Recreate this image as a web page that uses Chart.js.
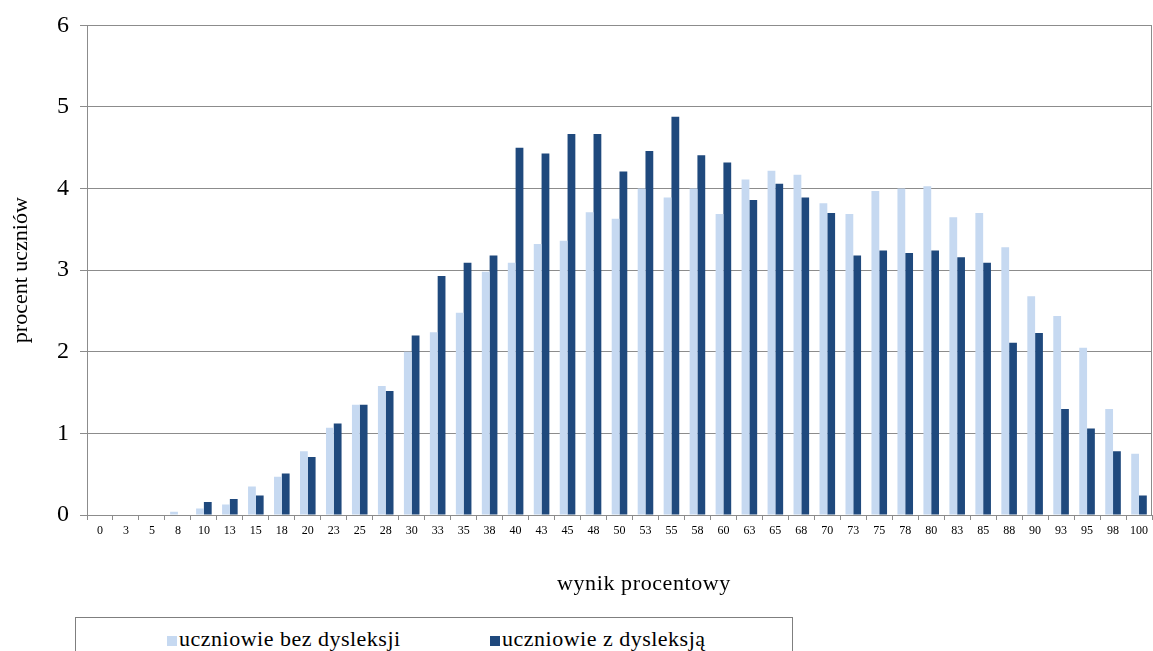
<!DOCTYPE html>
<html>
<head>
<meta charset="utf-8">
<script src="https://cdn.jsdelivr.net/npm/chart.js@4/dist/chart.umd.min.js"></script>
<style>
    body { margin: 0; background: #fff; }
    #wrap {
        position: relative; width: 1153px; height: 651px; overflow: hidden;
        font-family: "Times New Roman", "Liberation Serif", "DejaVu Serif", serif; color: #000;
    }
    #chart_box { position: absolute; left: 0; top: 0; width: 1153px; height: 600px; }
    #x_title {
        position: absolute; left: 557px; top: 570px; font-size: 22px;
        letter-spacing: 0.6px; white-space: nowrap;
    }
    #legend_box {
        position: absolute; left: 75px; top: 617px; width: 716px; height: 60px;
        border: 1px solid #7f7f7f; font-size: 22px; letter-spacing: 0.5px;
    }
    .item { position: absolute; top: 8px; white-space: nowrap; }
    .swatch { display: inline-block; width: 10px; height: 10px; margin-right: 2px; }
</style>
</head>
<body>
<div id="wrap">
    <div id="chart_box"><canvas id="score_plot"></canvas></div>
    <div id="x_title">wynik procentowy</div>
    <div id="legend_box"></div>
</div>
<script>
'use strict';

// Score categories (x axis)
const scoreLabels = ['0', '3', '5', '8', '10', '13', '15', '18', '20', '23', '25', '28', '30', '33', '35', '38',
    '40', '43', '45', '48', '50', '53', '55', '58', '60', '63', '65', '68', '70', '73', '75', '78',
    '80', '83', '85', '88', '90', '93', '95', '98', '100'];

// Percent of students without dyslexia
const withoutDyslexia = [0, 0, 0, 0.04, 0.08, 0.13, 0.35, 0.47, 0.78, 1.07, 1.35, 1.58, 2.0, 2.24, 2.48, 2.98,
    3.09, 3.32, 3.36, 3.71, 3.63, 4.0, 3.89, 4.0, 3.69, 4.11, 4.22, 4.17, 3.82, 3.69, 3.97, 4.0,
    4.03, 3.65, 3.7, 3.28, 2.68, 2.44, 2.05, 1.3, 0.75];

// Percent of students with dyslexia
const withDyslexia = [0, 0, 0, 0, 0.16, 0.195, 0.24, 0.51, 0.71, 1.12, 1.35, 1.52, 2.2, 2.93, 3.09, 3.18,
    4.5, 4.43, 4.67, 4.67, 4.21, 4.46, 4.88, 4.41, 4.32, 3.86, 4.06, 3.89, 3.7, 3.18, 3.24, 3.21,
    3.24, 3.16, 3.09, 2.11, 2.23, 1.3, 1.06, 0.78, 0.24];

const seriesNames = ['uczniowie bez dysleksji', 'uczniowie z dysleksją'];
const seriesColors = ['#c6d9f1', '#1f497d'];

const serif = '"Times New Roman", "Liberation Serif", "DejaVu Serif", serif';
const gridColor = '#8c8c8c';

// Frame around the plot area (right side is not covered by the axes)
const plotFrame = {
    id: 'plotFrame',
    afterDraw(chart) {
        const { ctx, chartArea } = chart;
        ctx.save();
        ctx.strokeStyle = gridColor;
        ctx.lineWidth = 1;
        ctx.beginPath();
        ctx.moveTo(Math.round(chartArea.right) - 0.5, chartArea.top);
        ctx.lineTo(Math.round(chartArea.right) - 0.5, chartArea.bottom);
        ctx.stroke();
        ctx.restore();
    }
};

new Chart(document.getElementById('score_plot').getContext('2d'), {
    type: 'bar',
    data: {
        labels: scoreLabels,
        datasets: [{
            label: seriesNames[0],
            data: withoutDyslexia,
            backgroundColor: seriesColors[0],
            categoryPercentage: 0.6,
            barPercentage: 1.0
        }, {
            label: seriesNames[1],
            data: withDyslexia,
            backgroundColor: seriesColors[1],
            categoryPercentage: 0.6,
            barPercentage: 1.0
        }]
    },
    options: {
        responsive: true,
        maintainAspectRatio: false,
        animation: false,
        layout: { padding: { top: 23, right: 1, left: 0, bottom: 0 } },
        plugins: {
            legend: { display: false },
            title: { display: false },
            tooltip: { enabled: false }
        },
        scales: {
            x: {
                afterFit: (scale) => { scale.height = 85; },
                grid: {
                    offset: true,
                    drawOnChartArea: false,
                    drawTicks: true,
                    tickLength: 5,
                    color: gridColor
                },
                border: { color: gridColor },
                ticks: {
                    autoSkip: false,
                    maxRotation: 0,
                    padding: 4,
                    color: '#000',
                    font: { family: serif, size: 12 }
                }
            },
            y: {
                min: 0,
                max: 6,
                afterFit: (scale) => { scale.width = 87; },
                grid: {
                    color: gridColor,
                    drawTicks: true,
                    tickLength: 7
                },
                border: { color: gridColor },
                ticks: {
                    stepSize: 1,
                    padding: 11,
                    color: '#000',
                    font: { family: serif, size: 24 }
                },
                title: {
                    display: true,
                    text: 'procent uczniów',
                    color: '#000',
                    padding: { top: 8, bottom: 0 },
                    font: { family: serif, size: 22 }
                }
            }
        }
    },
    plugins: [plotFrame]
});

// Legend below the chart, built from the series arrays
const legendBox = document.getElementById('legend_box');
const legendLeft = [91, 414];
seriesNames.forEach((name, i) => {
    const item = document.createElement('span');
    item.className = 'item';
    item.style.left = legendLeft[i] + 'px';
    item.innerHTML = '<span class="swatch" style="background:' + seriesColors[i] + '"></span>' + name;
    legendBox.appendChild(item);
});
</script>
</body>
</html>
